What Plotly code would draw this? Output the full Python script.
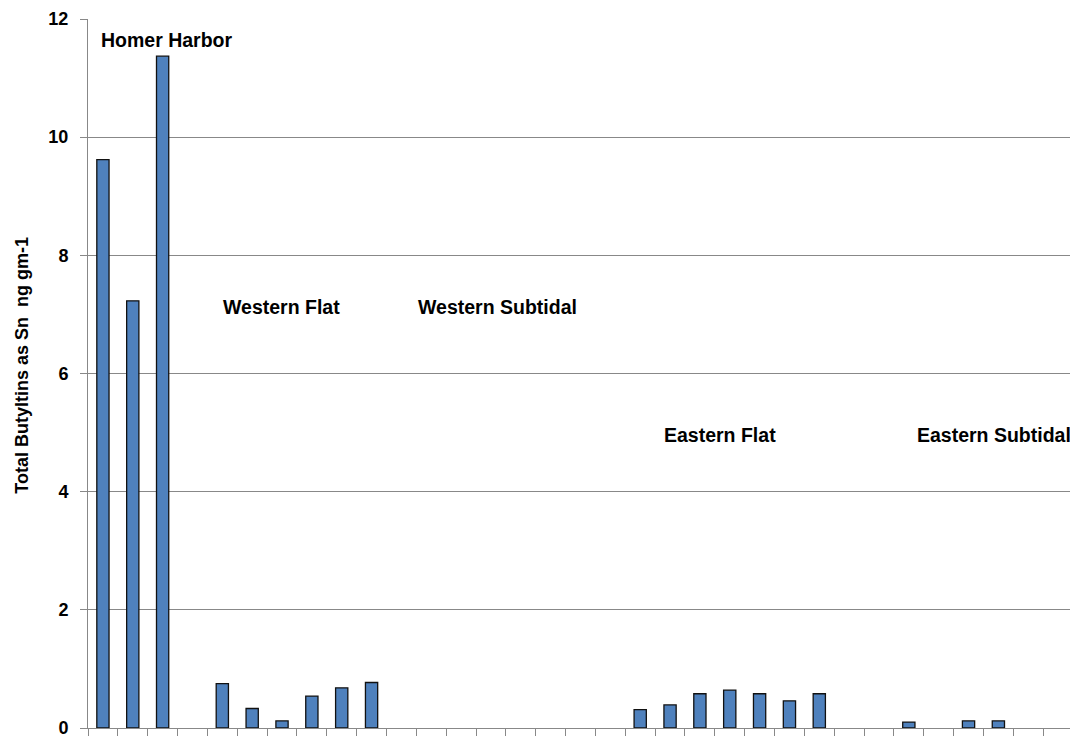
import plotly.graph_objects as go

# Sample sites (33 category slots along the x axis, only some measured)
categories = [str(i) for i in range(1, 34)]
values = [9.62, 7.23, 11.37, None, 0.75, 0.33, 0.12, 0.54, 0.68, 0.77,
          None, None, None, None, None, None, None, None,
          0.31, 0.39, 0.58, 0.64, 0.58, 0.46, 0.58,
          None, None, 0.10, None, 0.12, 0.12, None, None]

region_labels = ["Homer Harbor", "Western Flat", "Western Subtidal", "Eastern Flat", "Eastern Subtidal"]
region_x = [-0.14, 3.95, 10.48, 18.73, 27.2]
region_y = [11.65, 7.13, 7.13, 4.96, 4.96]

y_title = "Total Butyltins as Sn\u00a0 ng gm-1"
y_ticks = [0, 2, 4, 6, 8, 10, 12]

fig = go.Figure()
fig.add_trace(go.Bar(
    x=list(range(len(categories))),
    y=values,
    marker=dict(color="#4F81BD", line=dict(color="#111111", width=1.3)),
    width=0.41,
))

for lab, xx, yy in zip(region_labels, region_x, region_y):
    fig.add_annotation(x=xx, y=yy, xref="x", yref="y", text=lab, showarrow=False,
                       xanchor="left", yanchor="middle",
                       font=dict(family="Liberation Sans, Arial", size=19.5, color="#000000", weight="bold"))

fig.add_annotation(x=-66/985, y=0.511, xref="paper", yref="paper", text=y_title, showarrow=False,
                   textangle=-90, xanchor="center", yanchor="middle",
                   font=dict(family="Liberation Sans, Arial", size=18, color="#000000", weight="bold"))

# page body has an 8px default margin, so the figure is sized/offset to compensate
fig.update_layout(
    width=1070, height=732,
    margin=dict(l=80, r=5, t=11, b=12),
    paper_bgcolor="white", plot_bgcolor="white",
    showlegend=False,
    font=dict(family="Liberation Sans, Arial", color="#000000"),
)
fig.update_xaxes(
    type="linear", range=[-0.5, len(categories) - 0.5],
    tickmode="array", tickvals=[i - 0.5 for i in range(len(categories) + 1)],
    showticklabels=False, ticks="outside", ticklen=7, tickcolor="#888888", tickwidth=1,
    showline=True, linecolor="#888888", linewidth=1, showgrid=False, zeroline=False,
    automargin=False,
)
fig.update_yaxes(
    range=[0, 12], tickvals=y_ticks, ticks="outside", ticklen=7, tickcolor="#888888",
    showline=True, linecolor="#888888", linewidth=1,
    showgrid=True, gridcolor="#888888", gridwidth=1, zeroline=False,
    tickfont=dict(family="Liberation Sans, Arial", size=18, color="#000000", weight="bold"),
    ticklabelstandoff=8, automargin=False,
)

fig.write_html("out.html")
